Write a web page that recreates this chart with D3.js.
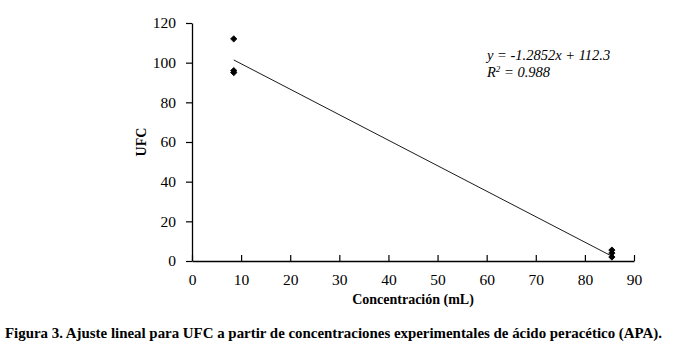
<!DOCTYPE html>
<html>
<head>
<meta charset="utf-8">
<script src="https://cdn.jsdelivr.net/npm/d3@7"></script>
<style>
  body { margin: 0; background: #fff; }
  svg text { font-family: "Liberation Serif", "DejaVu Serif", serif; }
</style>
</head>
<body>
<div id="chart"></div>
<script>
// measured points (concentration mL, UFC)
const conc = [8.5, 8.5, 8.5, 85.5, 85.5, 85.5];
const ufc = [112, 96, 95, 5.5, 4, 2];
const slope = -1.2852, intercept = 112.3;
const fitX = [8.5, 85.5];
const xTicks = [0, 10, 20, 30, 40, 50, 60, 70, 80, 90];
const yTicks = [0, 20, 40, 60, 80, 100, 120];

const W = 676, H = 348;
const margin = {top: 23, right: 42, bottom: 87, left: 192};

const svg = d3.select("#chart").append("svg")
  .attr("width", W).attr("height", H);

const x = d3.scaleLinear().domain([0, 90]).range([margin.left, W - margin.right]);
const y = d3.scaleLinear().domain([0, 120]).range([H - margin.bottom, margin.top]);

const xAxis = svg.append("g")
  .attr("transform", `translate(0,${y(0)})`)
  .call(d3.axisBottom(x).tickValues(xTicks).tickSize(-6).tickPadding(8).tickSizeOuter(0));
const yAxis = svg.append("g")
  .attr("transform", `translate(${x(0)},0)`)
  .call(d3.axisLeft(y).tickValues(yTicks).tickSize(6).tickPadding(10).tickSizeOuter(0));

[xAxis, yAxis].forEach(g => {
  g.select(".domain").attr("stroke", "#000").attr("stroke-width", 1.3);
  g.selectAll(".tick line").attr("stroke", "#000").attr("stroke-width", 1.2);
  g.selectAll(".tick text").attr("fill", "#000").style("font-size", "15.5px");
});
xAxis.selectAll(".tick text").attr("dy", "1.05em");

// trend line
svg.append("path")
  .datum(fitX)
  .attr("fill", "none")
  .attr("stroke", "#000")
  .attr("stroke-width", 0.9)
  .attr("d", d3.line().x(d => x(d)).y(d => y(slope * d + intercept)));

// points (rounded diamonds)
const sym = d3.symbol().type(d3.symbolSquare).size(20);
svg.selectAll(".pt")
  .data(conc.map((c, i) => ({c, v: ufc[i]})))
  .join("path")
  .attr("class", "pt")
  .attr("transform", d => `translate(${x(d.c)},${y(d.v)}) rotate(45)`)
  .attr("d", sym)
  .attr("fill", "#000")
  .attr("stroke", "#000")
  .attr("stroke-width", 0.8)
  .attr("stroke-linejoin", "round");

// equation
svg.append("text").attr("x", 487).attr("y", 60)
  .style("font-size", "14.5px").style("font-style", "italic")
  .text("y = -1.2852x + 112.3");
const r2 = svg.append("text").attr("x", 487).attr("y", 77)
  .style("font-size", "14.5px").style("font-style", "italic");
r2.append("tspan").text("R");
r2.append("tspan").attr("dy", -5).style("font-size", "9px").text("2");
r2.append("tspan").attr("dy", 5).text(" = 0.988");

// axis titles
svg.append("text")
  .attr("transform", `translate(146,${(y(0) + y(120)) / 2}) rotate(-90)`)
  .attr("text-anchor", "middle")
  .style("font-size", "14px").style("font-weight", "bold")
  .text("UFC");
svg.append("text")
  .attr("x", (x(0) + x(90)) / 2).attr("y", 304)
  .attr("text-anchor", "middle")
  .style("font-size", "14px").style("font-weight", "bold")
  .text("Concentración (mL)");

// caption
svg.append("text")
  .attr("x", 5).attr("y", 338)
  .style("font-size", "14.9px").style("font-weight", "bold")
  .text("Figura 3. Ajuste lineal para UFC a partir de concentraciones experimentales de ácido peracético (APA).");
</script>
</body>
</html>
